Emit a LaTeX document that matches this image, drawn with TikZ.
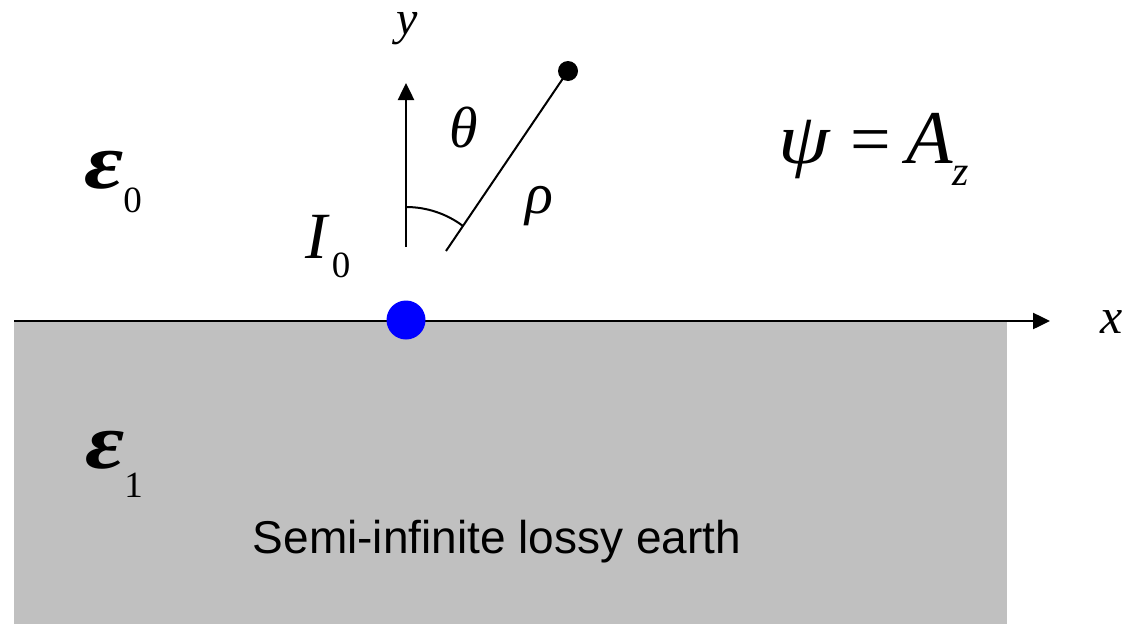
\documentclass[tikz,border=0pt]{standalone}
\usepackage{fontspec}
\setmainfont{Liberation Serif}
\newfontfamily\arialf{Liberation Sans}
\usetikzlibrary{arrows.meta}
\definecolor{earth}{RGB}{192,192,192}
\newcommand{\fs}[1]{\fontsize{#1}{#1}\selectfont}
\newcommand{\bigeps}{\scalebox{1.45}[1.2]{\fs{66}\bfseries\itshape ε}}
\begin{document}
\begin{tikzpicture}[x=1pt,y=-1pt,
  lbl/.style={inner sep=0pt, outer sep=0pt},
  axis/.style={line width=2.5pt,-{Triangle[length=17pt,width=16pt]}},
  thin line/.style={line width=2pt}]
\useasboundingbox (0,0) rectangle (1128,624);
\fill[white] (0,0) rectangle (1128,624);
% earth
\fill[earth] (14,321) rectangle (1007,624);
% axes
\coordinate (xs) at (14,321);
\coordinate (xe) at (1050,321);
\coordinate (ys) at (406,247);
\coordinate (ye) at (406,83);
\draw[axis] (xs) -- (xe);
\draw[axis] (ys) -- (ye);
% source
\node[circle, fill=blue, minimum size=39pt, inner sep=0pt] (src) at (406,320) {};
% observation point and radius line
\node[circle, fill=black, minimum size=20pt, inner sep=0pt] (obs) at (568,71) {};
\coordinate (rs) at (446,251);
\draw[thin line] (rs) -- (obs.center);
% angle arc
\coordinate (as) at (406,207);
\draw[thin line] (as) arc[start angle=90, end angle=53, radius=95pt];
% labels
\node[lbl, anchor=base] (ylab) at (407,34) {\fs{48}\itshape y};
\node[lbl, anchor=base west] (xlab) at (1100,333) {\fs{50}\itshape x};
\node[lbl, anchor=base] (th) at (464,147) {\fs{58}\itshape θ};
\node[lbl, anchor=base west] (rho) at (525,213) {\fs{58}\itshape ρ};
\node[lbl, anchor=base west] (I0) at (305,258) {\fs{66}\itshape I\hspace{5pt}\raisebox{-19pt}{\fs{37}\upshape 0}};
\node[lbl, anchor=base west] (e0) at (84,188) {\bigeps\raisebox{-24pt}{\fs{37}\mdseries\upshape 0}};
\node[lbl, anchor=base west] (e1) at (85,468) {\bigeps\raisebox{-29pt}{\fs{37}\mdseries\upshape 1}};
\node[lbl, anchor=base west] (psi) at (778,163) {\scalebox{1.15}[1]{\fs{72}\itshape ψ}};
\node[lbl, anchor=base] (eq) at (871,163) {\fs{72}=};
\node[lbl, anchor=base west] (Az) at (906,163) {\fs{76}\itshape A\raisebox{-22pt}{\fs{42}z}};
\node[lbl, anchor=base] (earthlab) at (497,553) {\arialf\fs{46}Semi-infinite lossy earth};
\end{tikzpicture}
\end{document}
